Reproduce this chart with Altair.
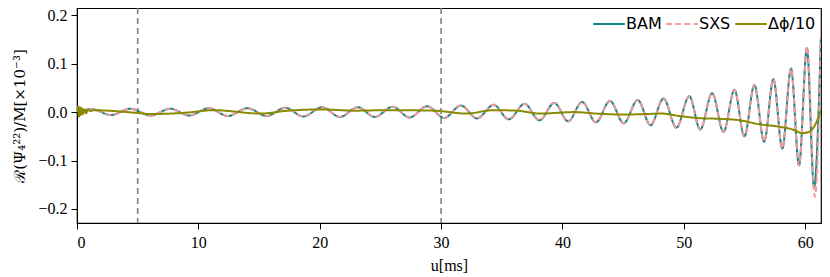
import altair as alt
import pandas as pd

# ---- data (time in ms, values in units of 1e-3) ----
# BAM waveform: start point, alternating maxima/minima, end point
bam_t = [0.2, 1.23, 2.78, 4.42, 6.05, 7.69, 9.24, 10.87, 12.43, 14.06, 15.62,
         17.17, 18.64, 20.20, 21.67, 23.14, 24.53, 26.00, 27.39, 28.86, 30.25,
         31.64, 32.95, 34.34, 35.57, 36.88, 38.10, 39.33, 40.47, 41.62, 42.76,
         43.91, 45.05, 46.20, 47.26, 48.32, 49.39, 50.45, 51.35, 52.33, 53.27,
         54.17, 54.99, 55.81, 56.62, 57.38, 58.11, 58.83, 59.49, 60.14, 60.73,
         61.3]
bam_v = [0.0, 0.006, -0.006, 0.007, -0.007, 0.007, -0.007, 0.008, -0.008, 0.008,
         -0.008, 0.009, -0.009, 0.010, -0.010, 0.010, -0.010, 0.011, -0.011,
         0.012, -0.012, 0.0135, -0.013, 0.015, -0.015, 0.017, -0.017, 0.019,
         -0.019, 0.021, -0.021, 0.023, -0.023, 0.025, -0.027, 0.028, -0.032,
         0.033, -0.036, 0.039, -0.041, 0.046, -0.050, 0.056, -0.061, 0.068,
         -0.075, 0.090, -0.110, 0.132, -0.155, 0.16]

# SXS: same as BAM except the last cycle
sxs_tail_t = [60.16, 60.80, 61.40]
sxs_tail_v = [0.135, -0.175, 0.27]
sxs_t = bam_t[:-3] + sxs_tail_t
sxs_v = bam_v[:-3] + sxs_tail_v

# Delta phi / 10
dphi_t = [0.0, 0.08, 0.16, 0.24, 0.32, 0.4, 0.5, 0.6, 0.75, 0.9, 1.1, 1.4, 2.5,
          4.9, 6.1, 8.8, 11.3, 15.1, 17.4, 20.2, 22.9, 25.6, 29.4, 32.1, 34.3,
          36.2, 38.2, 40.9, 43.1, 45.0, 46.9, 48.2, 49.6, 51.3, 53.1, 54.5, 56.2,
          57.8, 59.1, 59.7, 60.3, 60.8, 61.3]
dphi_v = [0.0, 0.011, -0.009, 0.010, -0.006, 0.008, -0.004, 0.006, -0.002, 0.005,
          0.002, 0.004, 0.003, -0.0015, -0.004, -0.0015, 0.004, -0.003, 0.003,
          0.0055, 0.003, 0.004, 0.003, -0.003, 0.004, 0.003, -0.003, 0.0,
          -0.0035, -0.005, -0.004, -0.003, -0.008, -0.0125, -0.014, -0.0165,
          -0.025, -0.030, -0.037, -0.0435, -0.041, -0.027, 0.004]

vlines = [5, 30]
x_ticks = [0, 10, 20, 30, 40, 50, 60]
y_ticks = [-0.2, -0.1, 0.0, 0.1, 0.2]
names = ["BAM", "SXS", "Δϕ/10"]
colors = ["#128585", "#f29a9a", "#8a8a00"]
dashes = [[1, 0], [6, 3], [1, 0]]

bam_df = pd.DataFrame({"t": bam_t, "v": bam_v, "series": names[0]})
sxs_df = pd.DataFrame({"t": sxs_t, "v": sxs_v, "series": names[1]})
dphi_df = pd.DataFrame({"t": dphi_t, "v": dphi_v, "series": names[2]})
vl_df = pd.DataFrame({"x": vlines})

xscale = alt.Scale(domain=[0, 61.3], nice=False, zero=False)
yscale = alt.Scale(domain=[-0.229, 0.215], nice=False, zero=False)

legend = alt.Legend(
    title=None, orient="none", legendX=515, legendY=-1, direction="horizontal",
    symbolType="stroke", symbolSize=1000, symbolStrokeWidth=2,
    labelFont="DejaVu Sans", labelFontSize=16, labelColor="black",
    labelOffset=0, columnPadding=0, padding=0, labelLimit=120,
)

xaxis = alt.Axis(values=x_ticks, format="d", title="u[ms]", grid=False,
                 labelFont="Liberation Serif", labelFontSize=16,
                 labelPadding=5, titlePadding=7)
yaxis = alt.Axis(values=y_ticks, format=".1f",
                 title="ℛ(Ψ₄²²)/M[×10⁻³]", grid=False,
                 labelFont="Liberation Serif", labelFontSize=16,
                 labelPadding=4, titlePadding=10)

def series_layer(df):
    return alt.Chart(df).mark_line(strokeWidth=2, interpolate="monotone", clip=True).encode(
        x=alt.X("t:Q", scale=xscale, axis=xaxis),
        y=alt.Y("v:Q", scale=yscale, axis=yaxis),
        color=alt.Color("series:N", scale=alt.Scale(domain=names, range=colors), legend=legend),
        strokeDash=alt.StrokeDash("series:N", scale=alt.Scale(domain=names, range=dashes), legend=legend),
    )

rules = alt.Chart(vl_df).mark_rule(color="#808080", strokeDash=[6, 4], strokeWidth=1.6).encode(
    x=alt.X("x:Q", scale=xscale, axis=xaxis)
)

chart = alt.layer(
    rules, series_layer(bam_df), series_layer(sxs_df), series_layer(dphi_df)
).properties(
    width=744, height=215,
    autosize=alt.AutoSizeParams(type="none"),
    padding={"left": 69, "top": 0, "right": 1, "bottom": 50},
).configure_view(
    stroke="black", strokeWidth=1.2
).configure_axis(
    labelFont="Liberation Serif", labelFontSize=16, labelColor="black",
    titleFont="Liberation Serif", titleFontSize=16, titleFontWeight="normal",
    titleColor="black", tickSize=6, tickColor="black", domainColor="black",
    tickWidth=1, domainWidth=1,
).configure_axisY(
    titleFont="DejaVu Serif", titleFontSize=15,
)

chart.save("out.html", embed_options={"renderer": "svg", "actions": False})
